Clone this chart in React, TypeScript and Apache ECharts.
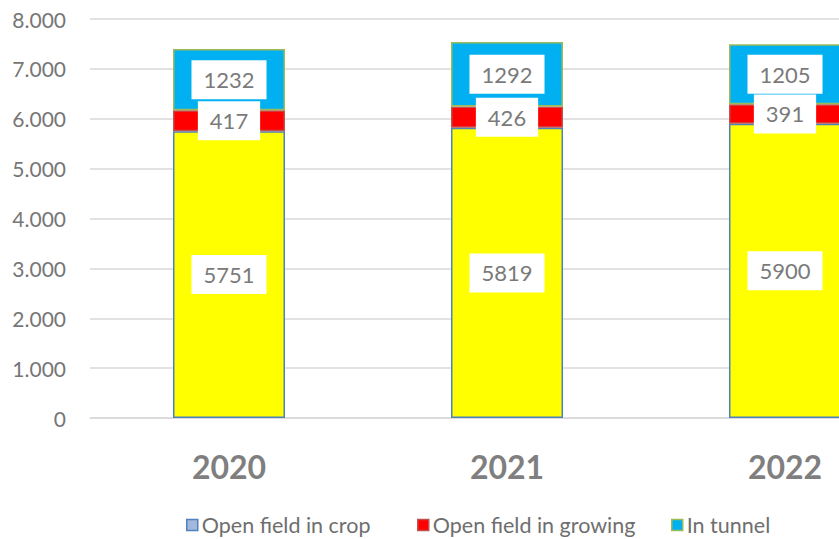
import React, { useEffect, useRef } from "react";
import * as echarts from "echarts";

const categories = ["2020", "2021", "2022"];
const openFieldInCrop = [5751, 5819, 5900];
const openFieldInGrowing = [417, 426, 391];
const inTunnel = [1232, 1292, 1205];
const seriesNames = ["Open field in crop", "Open field in growing", "In tunnel"];

const FONT = "Lato, 'Noto Sans', sans-serif";

export default function App() {
  const ref = useRef<HTMLDivElement>(null);
  useEffect(() => {
    if (!ref.current) return;
    const chart = echarts.init(ref.current, undefined, { renderer: "svg" });
    const label = {
      show: true,
      position: "inside" as const,
      backgroundColor: "#ffffff",
      color: "#7a7a7a",
      fontSize: 22,
      fontFamily: FONT,
      padding: [9, 12, 8, 12],
    };
    const legendBase = (name: string, left: number, color: string, border: string) => ({
      left,
      top: 509,
      icon: "rect",
      itemWidth: 11,
      itemHeight: 11,
      itemGap: 0,
      selectedMode: false,
      textStyle: { color: "#6e6e6e", fontSize: 21.5, fontFamily: FONT, padding: [0, 0, 0, -1] },
      data: [{ name, itemStyle: { color, borderColor: border, borderWidth: 1.5 } }],
    });
    chart.setOption({
      animation: false,
      grid: { left: 90, top: 19, width: 834, height: 399, containLabel: false },
      legend: [
        legendBase(seriesNames[0], 181, "#a3b8dc", "#4f81bd"),
        legendBase(seriesNames[1], 412, "#ff0000", "#c0504d"),
        legendBase(seriesNames[2], 666, "#00b0f0", "#9bbb59"),
      ],
      xAxis: {
        type: "category",
        data: categories,
        axisLine: { show: true, lineStyle: { color: "#d9d9d9", width: 1.5 } },
        axisTick: { show: false },
        axisLabel: {
          color: "#7f7f7f",
          fontSize: 32,
          fontWeight: "bold",
          fontFamily: FONT,
          margin: 32,
        },
      },
      yAxis: {
        type: "value",
        min: 0,
        max: 8000,
        interval: 1000,
        axisLine: { show: false },
        axisTick: { show: false },
        splitLine: { lineStyle: { color: "#d9d9d9", width: 1.5 } },
        axisLabel: {
          color: "#767676",
          fontSize: 21,
          fontFamily: FONT,
          margin: 24,
          formatter: (v: number) => (v === 0 ? "0" : (v / 1000).toFixed(0) + ".000"),
        },
      },
      series: [
        {
          name: seriesNames[0],
          type: "bar",
          stack: "total",
          barWidth: 112,
          data: openFieldInCrop,
          itemStyle: { color: "#ffff00", borderColor: "#4f81bd", borderWidth: 1.5 },
          label,
        },
        {
          name: seriesNames[1],
          type: "bar",
          stack: "total",
          barWidth: 112,
          data: openFieldInGrowing,
          itemStyle: { color: "#ff0000", borderColor: "#c0504d", borderWidth: 1.5 },
          label,
        },
        {
          name: seriesNames[2],
          type: "bar",
          stack: "total",
          barWidth: 112,
          data: inTunnel,
          itemStyle: { color: "#00b0f0", borderColor: "#9bbb59", borderWidth: 1.5 },
          label,
        },
      ],
    });
    return () => chart.dispose();
  }, []);
  return (
    <div
      style={{ position: "absolute", left: 0, top: 0, width: 839, height: 539, background: "#fff", overflow: "hidden" }}
    >
      <div ref={ref} style={{ width: 1000, height: 539 }} />
    </div>
  );
}
